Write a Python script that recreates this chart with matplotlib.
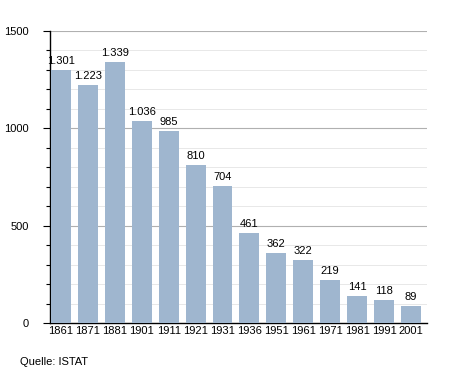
import matplotlib.pyplot as plt
import numpy as np

jahre = ['1861', '1871', '1881', '1901', '1911', '1921', '1931', '1936',
         '1951', '1961', '1971', '1981', '1991', '2001']
einwohner = [1301, 1223, 1339, 1036, 985, 810, 704, 461, 362, 322, 219, 141, 118, 89]
beschriftung = ['1.301', '1.223', '1.339', '1.036', '985', '810', '704', '461',
                '362', '322', '219', '141', '118', '89']

fig = plt.figure(figsize=(4.55, 3.73), dpi=100)
ax = fig.add_axes([0.110, 0.134, 0.828, 0.783])

x = np.arange(len(jahre))
breite = 0.74
ax.bar(x + 0.04, einwohner, width=breite, align='edge', color='#9fb6cf', zorder=3)

for xi, wert, txt in zip(x, einwohner, beschriftung):
    ax.text(xi + 0.04 + breite / 2, wert + 20, txt, ha='center', va='bottom',
            fontsize=8, family='Liberation Sans', zorder=4)

ax.set_xlim(0, len(jahre))
ax.set_ylim(0, 1500)
ax.set_xticks(x + 0.04 + breite / 2)
ax.set_xticklabels(jahre, family='Liberation Sans', fontsize=8)
ax.tick_params(axis='x', length=0, pad=2)

ax.set_yticks([0, 500, 1000, 1500])
ax.set_yticklabels(['0', '500', '1000', '1500'], family='Liberation Sans', fontsize=8)
ax.set_yticks(np.arange(0, 1501, 100), minor=True)
ax.tick_params(axis='y', which='major', length=5, width=0.8, pad=10)
ax.tick_params(axis='y', which='minor', length=3, width=0.8)

for y in range(100, 1501, 100):
    if y % 500 == 0:
        ax.axhline(y, color='#b0b0b0', lw=0.8, zorder=1)
    else:
        ax.axhline(y, color='#e4e4e4', lw=0.6, zorder=1)

ax.spines['top'].set_visible(False)
ax.spines['right'].set_visible(False)
ax.spines['left'].set_linewidth(1.0)
ax.spines['bottom'].set_linewidth(1.0)

fig.text(20 / 455, 1 - 362 / 373, 'Quelle: ISTAT', family='Liberation Sans',
         fontsize=8, va='center')

fig.savefig('out.png', dpi=100)
